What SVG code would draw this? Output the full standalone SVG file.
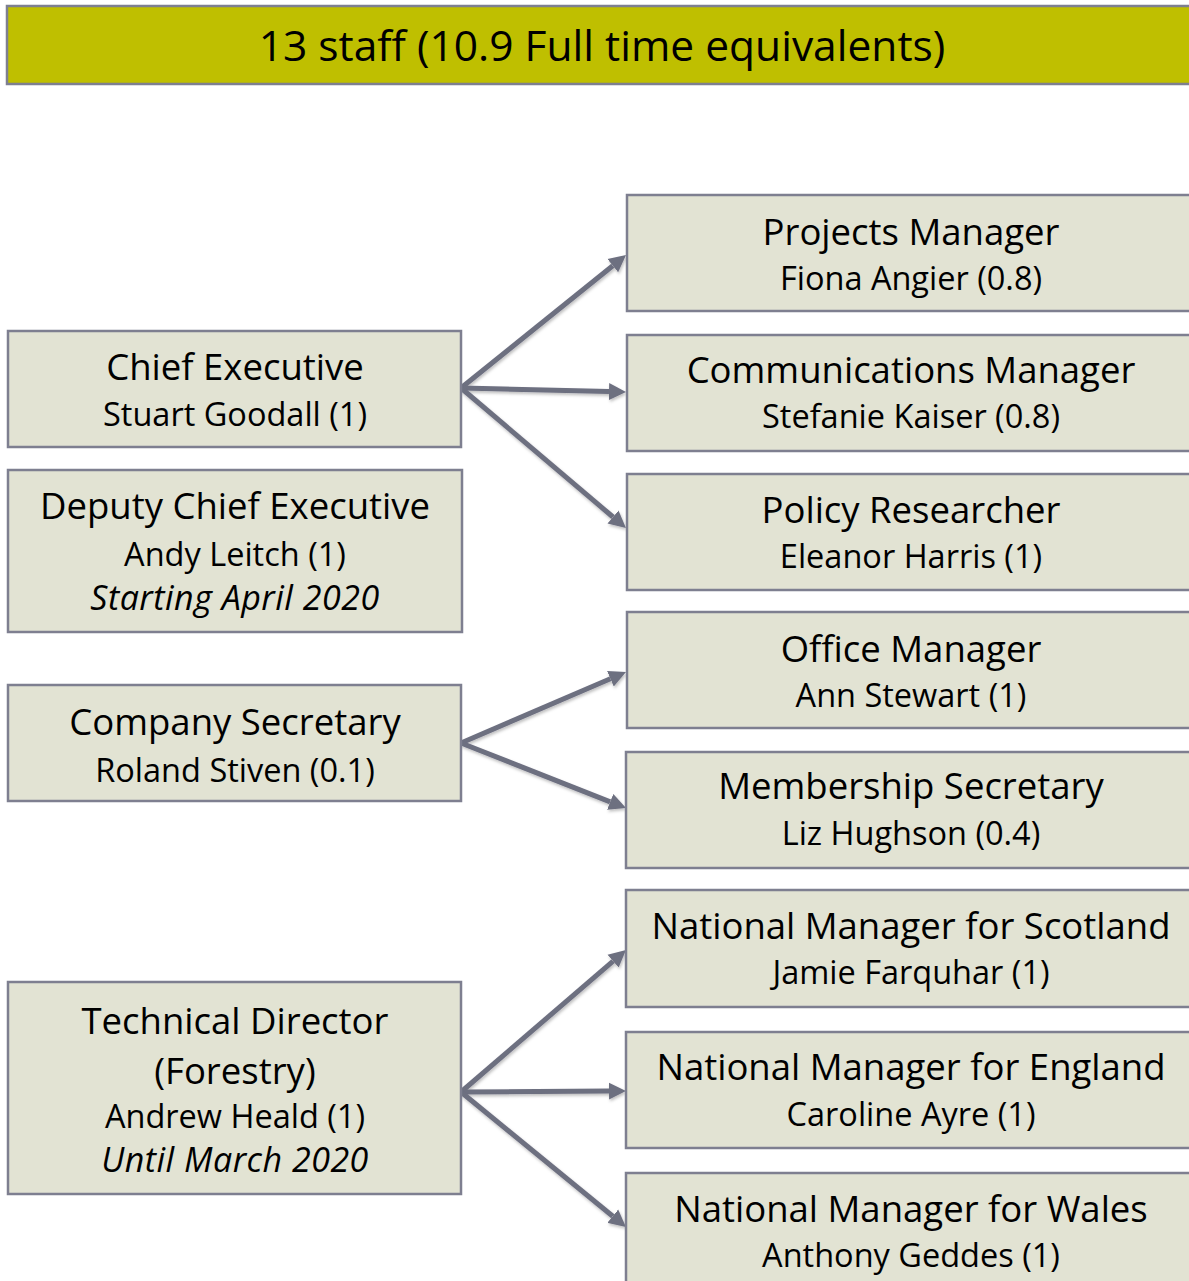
<svg xmlns="http://www.w3.org/2000/svg" width="1189" height="1281" viewBox="0 0 1189 1281">
  <defs>
    <style>
      .box { fill: #E2E3D3; stroke: #7E7F90; stroke-width: 2.5; }
      .banner { fill: #BFBF00; stroke: #7E7F90; stroke-width: 2.5; }
      .role { font-family: "Open Sans", "Liberation Sans", sans-serif; font-size: 36.5px; fill: #000; text-anchor: middle; }
      .name { font-family: "Open Sans", "Liberation Sans", sans-serif; font-size: 32.5px; fill: #000; text-anchor: middle; }
      .note { font-family: "Open Sans", "Liberation Sans", sans-serif; font-size: 34px; letter-spacing: 0.5px; font-style: italic; fill: #000; text-anchor: middle; }
      .title { font-family: "Open Sans", "Liberation Sans", sans-serif; font-size: 42.5px; fill: #000; text-anchor: middle; }
      .link { stroke: #6D6F80; stroke-width: 5; fill: none; marker-end: url(#head); }
    </style>
    <marker id="head" markerUnits="userSpaceOnUse" viewBox="0 -9 18 18" refX="0" refY="0" markerWidth="18" markerHeight="18" orient="auto">
      <path d="M0,-8.5 L17,0 L0,8.5 Z" fill="#6D6F80"/>
    </marker>
    <filter id="soft" x="-10%" y="-10%" width="120%" height="120%">
      <feDropShadow dx="1" dy="2" stdDeviation="1.5" flood-color="#000" flood-opacity="0.25"/>
    </filter>
  </defs>

  <rect width="1189" height="1281" fill="#FFFFFF"/>

  <!-- headline banner -->
  <g id="banner">
    <rect class="banner" x="7" y="6" width="1195" height="78"/>
    <text class="title" x="602" y="61">13 staff (10.9 Full time equivalents)</text>
  </g>

  <!-- reporting lines -->
  <g id="connectors" filter="url(#soft)">
    <line class="link" x1="461" y1="388" x2="612.8" y2="265.7"/>
    <line class="link" x1="461" y1="388" x2="609" y2="391.6"/>
    <line class="link" x1="461" y1="388" x2="613" y2="517"/>
    <line class="link" x1="461" y1="743" x2="610.4" y2="678.7"/>
    <line class="link" x1="461" y1="743" x2="610.2" y2="801.8"/>
    <line class="link" x1="461" y1="1092" x2="613.1" y2="961.1"/>
    <line class="link" x1="461" y1="1092" x2="609" y2="1091.1"/>
    <line class="link" x1="461" y1="1092" x2="612.8" y2="1216.2"/>
  </g>

  <!-- left column -->
  <g id="chief-executive">
    <rect class="box" x="8" y="331" width="453" height="116"/>
    <text class="role" x="235" y="380">Chief Executive</text>
    <text class="name" x="235" y="426">Stuart Goodall (1)</text>
  </g>
  <g id="deputy-chief-executive">
    <rect class="box" x="8" y="470" width="454" height="162"/>
    <text class="role" x="235" y="519">Deputy Chief Executive</text>
    <text class="name" x="235" y="566">Andy Leitch (1)</text>
    <text class="note" x="235" y="610">Starting April 2020</text>
  </g>
  <g id="company-secretary">
    <rect class="box" x="8" y="685" width="453" height="116"/>
    <text class="role" x="235" y="735">Company Secretary</text>
    <text class="name" x="235" y="782">Roland Stiven (0.1)</text>
  </g>
  <g id="technical-director">
    <rect class="box" x="8" y="982" width="453" height="212"/>
    <text class="role" x="235" y="1034">Technical Director</text>
    <text class="role" x="235" y="1084">(Forestry)</text>
    <text class="name" x="235" y="1128">Andrew Heald (1)</text>
    <text class="note" x="235" y="1172">Until March 2020</text>
  </g>

  <!-- right column -->
  <g id="projects-manager">
    <rect class="box" x="627" y="195" width="570" height="116"/>
    <text class="role" x="911" y="245">Projects Manager</text>
    <text class="name" x="911" y="290">Fiona Angier (0.8)</text>
  </g>
  <g id="communications-manager">
    <rect class="box" x="627" y="335" width="570" height="116"/>
    <text class="role" x="911" y="383">Communications Manager</text>
    <text class="name" x="911" y="428">Stefanie Kaiser (0.8)</text>
  </g>
  <g id="policy-researcher">
    <rect class="box" x="627" y="474" width="570" height="116"/>
    <text class="role" x="911" y="523">Policy Researcher</text>
    <text class="name" x="911" y="568">Eleanor Harris (1)</text>
  </g>
  <g id="office-manager">
    <rect class="box" x="627" y="612" width="570" height="116"/>
    <text class="role" x="911" y="662">Office Manager</text>
    <text class="name" x="911" y="707">Ann Stewart (1)</text>
  </g>
  <g id="membership-secretary">
    <rect class="box" x="626" y="752" width="571" height="116"/>
    <text class="role" x="911" y="799">Membership Secretary</text>
    <text class="name" x="911" y="845">Liz Hughson (0.4)</text>
  </g>
  <g id="manager-scotland">
    <rect class="box" x="626" y="890" width="571" height="117"/>
    <text class="role" x="911" y="939">National Manager for Scotland</text>
    <text class="name" x="911" y="984">Jamie Farquhar (1)</text>
  </g>
  <g id="manager-england">
    <rect class="box" x="626" y="1032" width="571" height="116"/>
    <text class="role" x="911" y="1080">National Manager for England</text>
    <text class="name" x="911" y="1126">Caroline Ayre (1)</text>
  </g>
  <g id="manager-wales">
    <rect class="box" x="626" y="1173" width="571" height="116"/>
    <text class="role" x="911" y="1222">National Manager for Wales</text>
    <text class="name" x="911" y="1267">Anthony Geddes (1)</text>
  </g>
</svg>
